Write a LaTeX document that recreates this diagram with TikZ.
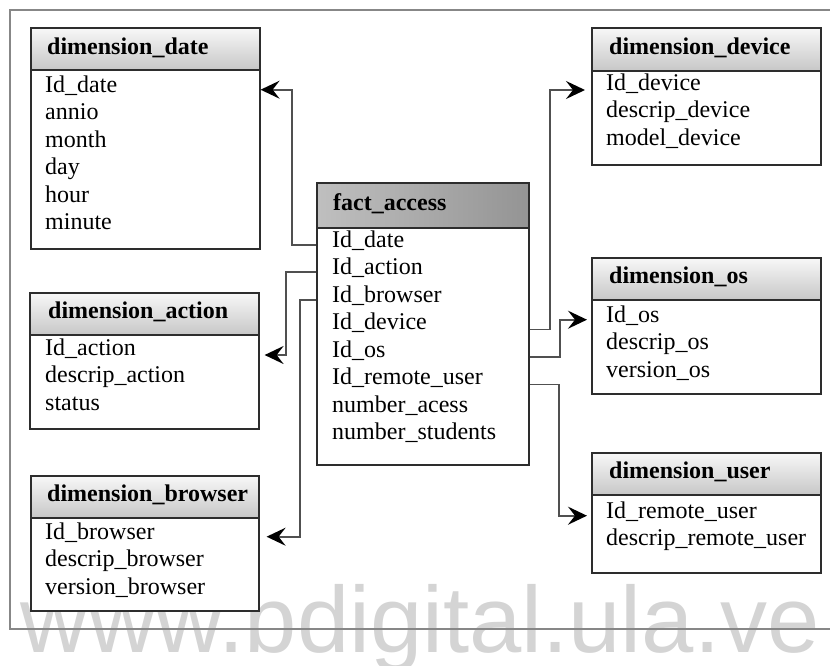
\documentclass[tikz,border=0pt]{standalone}
\usepackage{fontspec}
\setmainfont{Liberation Serif}
\newfontfamily\wmfont{Liberation Sans}
\usetikzlibrary{arrows.meta}
\definecolor{boxline}{RGB}{45,45,45}
\definecolor{linkline}{RGB}{80,80,80}
\definecolor{frameline}{RGB}{135,135,135}
\definecolor{wmark}{RGB}{212,212,212}

\begin{document}
\begin{tikzpicture} [
    x=1pt, y=-1pt,
    every node/.append style={font=\fontsize{24}{28}\selectfont},
    tbl/.style={draw=boxline, line width=1.6pt, fill=white, anchor=north west, inner sep=0pt},
    dimhead/.style={tbl, line width=2pt, top color=black!3, bottom color=black!22},
    facthead/.style={tbl, line width=2pt, left color=black!25, middle color=black!10, right color=black!42},
    title/.style={anchor=base west, inner sep=0pt, font=\fontsize{24}{28}\selectfont\bfseries},
    row/.style={anchor=base west, inner sep=0pt},
    link/.style={draw=linkline, line width=1.8pt, -{Stealth[length=19pt, width=18pt, inset=7pt, black]}}
  ]

  \useasboundingbox (0,0) rectangle (830,665);

  % watermark and frame
  \node [anchor=base west, inner sep=0pt, text=wmark, font=\wmfont\fontsize{94}{94}\selectfont] (watermark) at (20,652) {www.bdigital.ula.ve};
  \draw [frameline, line width=2pt] (830,10) -- (10,10) -- (10,629) -- (830,629);

  % dimension_date
  \node [tbl, minimum width=229pt, minimum height=221pt] (date) at (30,27) {};
  \node [dimhead, minimum width=229pt, minimum height=42pt] (date-head) at (30,27) {};
  \node [title] (date-title) at (47,54) {dimension\_date};
  \node [row] (dd-date) at (45,92) {Id\_date};
  \node [row] (dd-annio) at (45,119.5) {annio};
  \node [row] (dd-month) at (45,147) {month};
  \node [row] (dd-day) at (45,174.5) {day};
  \node [row] (dd-hour) at (45,202) {hour};
  \node [row] (dd-minute) at (45,229.5) {minute};

  % dimension_action
  \node [tbl, minimum width=229pt, minimum height=136pt] (action) at (29,292) {};
  \node [dimhead, minimum width=229pt, minimum height=42pt] (action-head) at (29,292) {};
  \node [title] (action-title) at (48,318) {dimension\_action};
  \node [row] (da-action) at (45,355) {Id\_action};
  \node [row] (da-descrip) at (45,382.5) {descrip\_action};
  \node [row] (da-status) at (45,410) {status};

  % dimension_browser
  \node [tbl, minimum width=228pt, minimum height=135pt] (browser) at (30,475) {};
  \node [dimhead, minimum width=228pt, minimum height=42pt] (browser-head) at (30,475) {};
  \node [title] (browser-title) at (47,501) {dimension\_browser};
  \node [row] (db-browser) at (45,539) {Id\_browser};
  \node [row] (db-descrip) at (45,566.5) {descrip\_browser};
  \node [row] (db-version) at (45,594) {version\_browser};

  % fact_access
  \node [tbl, minimum width=212pt, minimum height=282pt] (fact) at (316,182) {};
  \node [facthead, minimum width=212pt, minimum height=45pt] (fact-head) at (316,182) {};
  \node [title] (fact-title) at (333,210) {fact\_access};
  \node [row] (fa-date) at (332,247) {Id\_date};
  \node [row] (fa-action) at (332,274.5) {Id\_action};
  \node [row] (fa-browser) at (332,302) {Id\_browser};
  \node [row] (fa-device) at (332,329.5) {Id\_device};
  \node [row] (fa-os) at (332,357) {Id\_os};
  \node [row] (fa-user) at (332,384.5) {Id\_remote\_user};
  \node [row] (fa-acess) at (332,412) {number\_acess};
  \node [row] (fa-students) at (332,439.5) {number\_students};

  % dimension_device
  \node [tbl, minimum width=229pt, minimum height=137pt] (device) at (591,27) {};
  \node [dimhead, minimum width=229pt, minimum height=43pt] (device-head) at (591,27) {};
  \node [title] (device-title) at (609,54) {dimension\_device};
  \node [row] (dv-device) at (606,90) {Id\_device};
  \node [row] (dv-descrip) at (606,117.5) {descrip\_device};
  \node [row] (dv-model) at (606,145) {model\_device};

  % dimension_os
  \node [tbl, minimum width=229pt, minimum height=136pt] (os) at (591,257) {};
  \node [dimhead, minimum width=229pt, minimum height=42pt] (os-head) at (591,257) {};
  \node [title] (os-title) at (609,283) {dimension\_os};
  \node [row] (do-os) at (606,322) {Id\_os};
  \node [row] (do-descrip) at (606,349.5) {descrip\_os};
  \node [row] (do-version) at (606,377) {version\_os};

  % dimension_user
  \node [tbl, minimum width=229pt, minimum height=120pt] (user) at (591,452) {};
  \node [dimhead, minimum width=229pt, minimum height=42pt] (user-head) at (591,452) {};
  \node [title] (user-title) at (609,478) {dimension\_user};
  \node [row] (du-user) at (606,518) {Id\_remote\_user};
  \node [row] (du-descrip) at (606,545.5) {descrip\_remote\_user};

  % links from the fact table
  \draw [link] (fact.west |- fa-date.mid) -- ++(-24,0) |- (date.east |- dd-date.mid);
  \draw [link, shorten >=5pt] (fact.west |- fa-action.mid) -- ++(-30,0) |- (action.east |- da-action.base);
  \draw [link, shorten >=7pt] (fact.west |- fa-browser.mid) -- ++(-16,0) |- (browser.east |- db-browser.mid);
  \draw [link, shorten >=6pt] (fact.east |- fa-device.base) -- ++(20,0) |- (device.west |- dv-device.base);
  \draw [link, shorten >=4pt] (fact.east |- fa-os.base) -- ++(30,0) |- (os.west |- do-os.mid);
  \draw [link, shorten >=4pt] (fact.east |- fa-user.base) -- ++(29,0) |- (user.west |- du-user.mid);
\end{tikzpicture}
\end{document}
